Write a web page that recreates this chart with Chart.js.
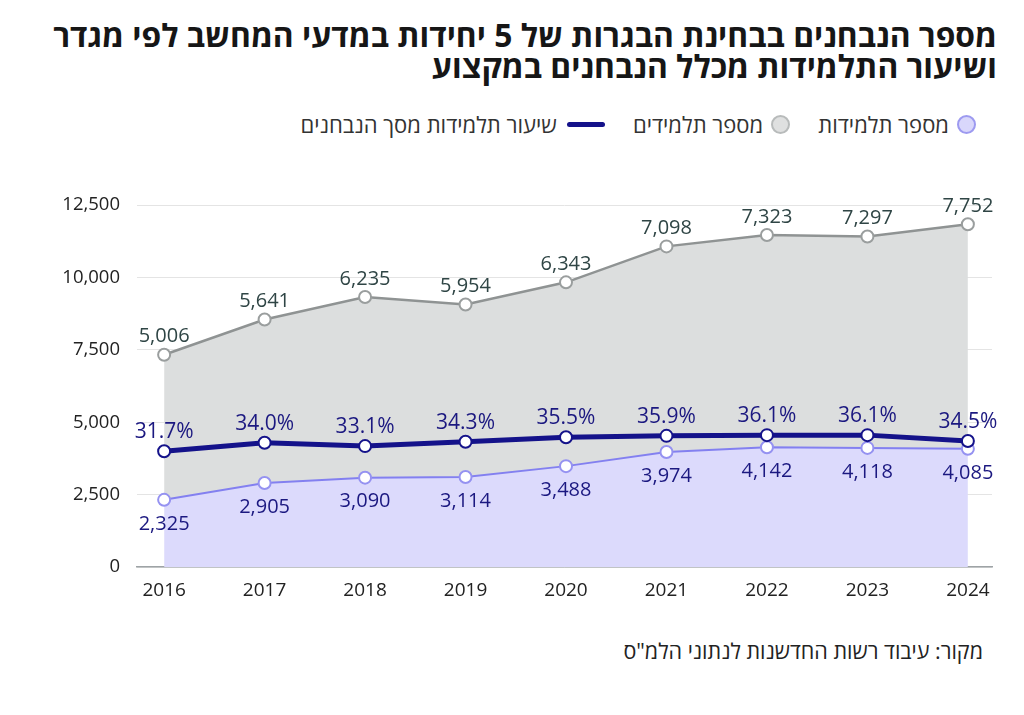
<!DOCTYPE html>
<html lang="he">
<head>
<meta charset="utf-8">
<script src="https://cdn.jsdelivr.net/npm/chart.js@4.4.1/dist/chart.umd.min.js"></script>
<style>
  body { margin: 0; background: #fff; width: 1024px; height: 715px; position: relative; overflow: hidden; font-family: "Open Sans", "DejaVu Sans", sans-serif; }
  .title { position: absolute; right: 27px; top: 19px; direction: rtl; text-align: right; font-weight: 700; font-size: 31.8px; line-height: 31px; color: #161616; }
  .legend { position: absolute; right: 48px; top: 109px; direction: rtl; display: flex; align-items: center; font-size: 22px; color: #333; }
  .item { display: flex; align-items: center; margin-left: 28px; }
  .dot { width: 15px; height: 15px; border-radius: 50%; margin-left: 8px; }
  .bar { width: 38px; height: 5px; border-radius: 3px; background: #14128a; margin-left: 10px; }
  .source { position: absolute; right: 41px; top: 636px; direction: rtl; font-size: 21.5px; color: #222; }
  #wrap { position: absolute; left: 0; top: 150px; width: 1024px; height: 459px; }
</style>
</head>
<body>
<div class="title">מספר הנבחנים בבחינת הבגרות של 5 יחידות במדעי המחשב לפי מגדר<br>ושיעור התלמידות מכלל הנבחנים במקצוע</div>
<div class="legend">
  <div class="item"><span class="dot" style="background:#d9d7fb;border:2px solid #9d9af0"></span>מספר תלמידות</div>
  <div class="item"><span class="dot" style="background:#dfe0e0;border:2px solid #b8bbbb"></span>מספר תלמידים</div>
  <div class="item"><span class="bar"></span>שיעור תלמידות מסך הנבחנים</div>
</div>
<div id="wrap"><canvas id="chart"></canvas></div>
<div class="source">מקור: עיבוד רשות החדשנות לנתוני הלמ"ס</div>
<script>
const years = [2016, 2017, 2018, 2019, 2020, 2021, 2022, 2023, 2024];
const female = [2325, 2905, 3090, 3114, 3488, 3974, 4142, 4118, 4085];
const male = [5006, 5641, 6235, 5954, 6343, 7098, 7323, 7297, 7752];
const femaleRate = [31.7, 34.0, 33.1, 34.3, 35.5, 35.9, 36.1, 36.1, 34.5];
const yTicks = [0, 2500, 5000, 7500, 10000, 12500];

const pts = (arr) => arr.map((v, i) => ({ x: years[i], y: v }));

// etiquetas de valores encima/debajo de cada punto
const valueLabels = {
  id: "valueLabels",
  afterDatasetsDraw(chart) {
    const ctx = chart.ctx;
    ctx.save();
    ctx.textAlign = "center";
    ctx.textBaseline = "middle";
    chart.data.datasets.forEach((ds, di) => {
      const meta = chart.getDatasetMeta(di);
      ctx.font = ds.isRate ? '21px "Open Sans", sans-serif' : '20px "Open Sans", sans-serif';
      meta.data.forEach((p, i) => {
        const v = ds.data[i].y;
        let txt = ds.isRate ? v.toFixed(1) + "%" : v.toLocaleString("en-US");
        ctx.fillStyle = ds.labelColor;
        ctx.fillText(txt, p.x, p.y + ds.labelOffset);
      });
    });
    ctx.restore();
  },
};

new Chart(document.getElementById("chart"), {
  type: "line",
  data: {
    datasets: [
      {
        label: "שיעור תלמידות מסך הנבחנים",
        data: pts(femaleRate),
        yAxisID: "y1",
        isRate: true,
        borderColor: "#14128a",
        borderWidth: 5,
        pointRadius: 6,
        pointBorderWidth: 2,
        pointBackgroundColor: "#fff",
        pointBorderColor: "#14128a",
        fill: false,
        order: 0,
        labelColor: "#1b1880",
        labelOffset: -19,
      },
      {
        label: "מספר תלמידות",
        data: pts(female),
        yAxisID: "y",
        stack: "s",
        borderColor: "#8380f0",
        backgroundColor: "#dcdafc",
        borderWidth: 2,
        pointRadius: 6,
        pointBorderWidth: 2,
        pointBackgroundColor: "#fff",
        pointBorderColor: "#9592f1",
        fill: "origin",
        order: 1,
        labelColor: "#1b1880",
        labelOffset: 24,
      },
      {
        label: "מספר תלמידים",
        data: pts(male),
        yAxisID: "y",
        stack: "s",
        borderColor: "#8f9393",
        backgroundColor: "#dcdede",
        borderWidth: 2.5,
        pointRadius: 6,
        pointBorderWidth: 2,
        pointBackgroundColor: "#fff",
        pointBorderColor: "#9a9e9e",
        fill: "-1",
        order: 2,
        labelColor: "#2f4545",
        labelOffset: -18,
      },
    ],
  },
  options: {
    responsive: true,
    maintainAspectRatio: false,
    animation: false,
    layout: { padding: { left: 0, right: 32, top: 55, bottom: 3 } },
    plugins: { legend: { display: false }, tooltip: { enabled: false } },
    scales: {
      x: {
        type: "linear",
        min: 2015.73,
        max: 2024.24,
        afterBuildTicks: (s) => { s.ticks = years.map((v) => ({ value: v })); },
        ticks: {
          padding: 4,
          color: "#222",
          font: { size: 19, family: '"Open Sans", sans-serif' },
          callback: (v) => String(v),
        },
        grid: { display: false },
        border: { display: true, color: "#9ea3a6", width: 1.5 },
      },
      y: {
        stacked: true,
        min: 0,
        max: 12500,
        afterFit: (s) => { s.width = 137; },
        afterBuildTicks: (s) => { s.ticks = yTicks.map((v) => ({ value: v })); },
        ticks: {
          padding: 17,
          color: "#222",
          font: { size: 18.5, family: '"Open Sans", sans-serif' },
          callback: (v) => v.toLocaleString("en-US"),
        },
        grid: { color: "#e4e4e4", lineWidth: 1, drawTicks: false },
        border: { display: false },
      },
      y1: { display: false, min: 0, max: 99 },
    },
  },
  plugins: [valueLabels],
});
</script>
</body>
</html>
